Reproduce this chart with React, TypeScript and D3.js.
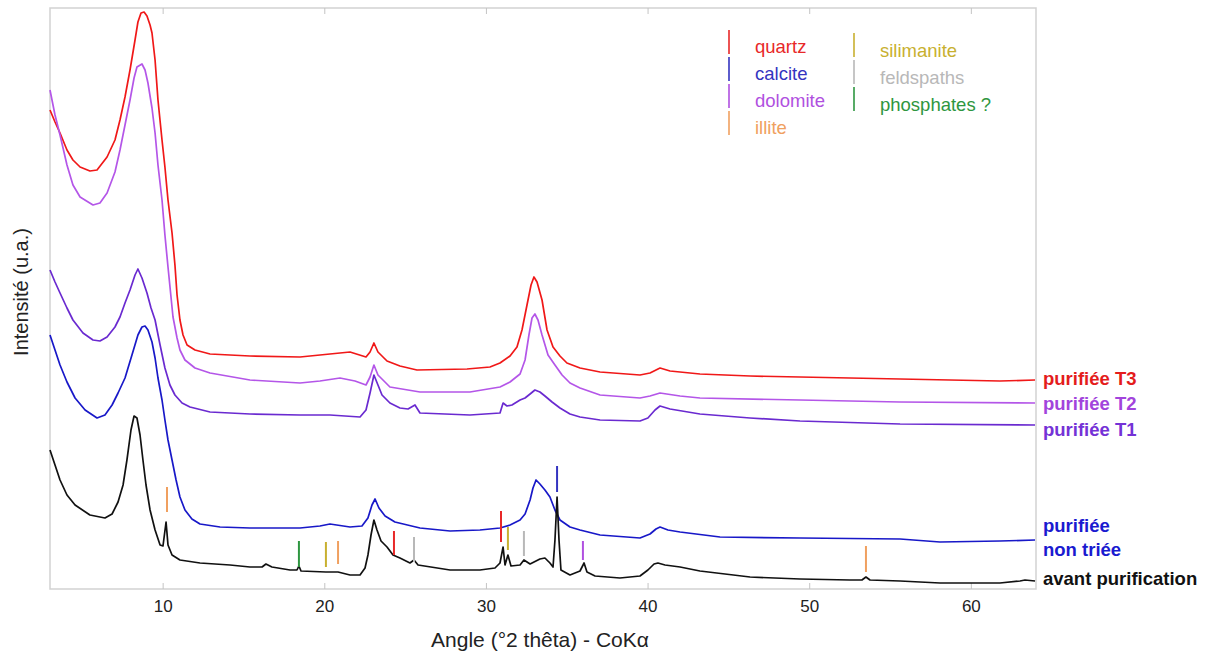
import React from "react";
import * as d3 from "d3";

// ---- Data (angle °2θ, intensity a.u.) ----
const seriesT3: [number, number][] = [
  [3.0, 479], [3.31, 467], [3.62, 456], [4.05, 439], [4.42, 429], [4.86, 422], [5.47, 418], [5.91, 419],
  [6.53, 432], [7.02, 449], [7.33, 469], [7.64, 492], [7.95, 519], [8.26, 549], [8.44, 567], [8.63, 576],
  [8.82, 577], [9.0, 573], [9.19, 564], [9.31, 556], [9.5, 529], [9.68, 489], [9.93, 449], [10.11, 422],
  [10.3, 389], [10.55, 356], [10.73, 324], [10.86, 294], [11.04, 269], [11.23, 254], [11.48, 244],
  [11.97, 239], [12.9, 235], [15.37, 233], [18.47, 232], [20.32, 235], [21.56, 237], [22.55, 232],
  [22.8, 237], [23.04, 246], [23.29, 237], [23.85, 228], [24.65, 223], [25.7, 219], [28.8, 220],
  [30.22, 222], [30.84, 226], [31.46, 233], [31.89, 242], [32.2, 259], [32.51, 284], [32.76, 304],
  [32.94, 312], [33.13, 307], [33.44, 289], [33.75, 259], [34.12, 242], [34.55, 233], [34.98, 226],
  [35.79, 221], [37.03, 217], [39.5, 214], [40.12, 216], [40.74, 221], [41.36, 218], [43.21, 215],
  [46.31, 213], [49.4, 212], [55.59, 210], [61.77, 208], [63.94, 209],
];

const seriesT2: [number, number][] = [
  [3.0, 499], [3.31, 474], [3.62, 454], [4.05, 424], [4.42, 404], [4.86, 392], [5.66, 384], [6.09, 386],
  [6.53, 396], [7.02, 417], [7.33, 439], [7.64, 464], [7.95, 489], [8.2, 511], [8.38, 522], [8.69, 525],
  [8.88, 519], [9.06, 506], [9.31, 481], [9.5, 456], [9.68, 424], [9.93, 389], [10.11, 354], [10.3, 322],
  [10.61, 272], [10.86, 251], [11.04, 239], [11.35, 229], [11.97, 221], [12.9, 216], [15.37, 209],
  [18.47, 206], [19.7, 208], [20.94, 211], [21.87, 208], [22.55, 204], [22.8, 212], [23.04, 224],
  [23.29, 214], [24.03, 202], [25.89, 197], [28.98, 197], [30.84, 202], [31.46, 207], [32.08, 215],
  [32.39, 229], [32.63, 254], [32.82, 271], [33.0, 275], [33.19, 269], [33.44, 254], [33.81, 234],
  [34.24, 224], [34.68, 214], [35.17, 206], [35.79, 201], [37.03, 194], [39.5, 191], [40.12, 193],
  [40.74, 196], [41.98, 193], [43.21, 191], [49.4, 189], [55.59, 187], [63.94, 186],
];

const seriesT1: [number, number][] = [
  [3.0, 319], [3.31, 307], [3.62, 296], [4.05, 281], [4.42, 269], [5.04, 256], [5.66, 249], [6.09, 248],
  [6.53, 252], [7.02, 262], [7.33, 272], [7.64, 286], [7.95, 299], [8.26, 314], [8.44, 320], [8.69, 311],
  [9.0, 296], [9.25, 281], [9.5, 269], [9.81, 244], [10.11, 221], [10.42, 204], [10.73, 194], [11.17, 186],
  [11.66, 182], [12.9, 177], [15.37, 175], [18.47, 174], [20.32, 174], [22.18, 172], [22.55, 179],
  [22.8, 196], [23.04, 214], [23.29, 204], [23.54, 194], [24.03, 186], [24.65, 181], [25.15, 180],
  [25.58, 184], [25.89, 176], [28.98, 174], [30.84, 176], [31.03, 186], [31.27, 183], [31.58, 184],
  [32.08, 189], [32.39, 191], [32.7, 195], [33.0, 199], [33.31, 197], [33.62, 193], [34.06, 187],
  [34.55, 181], [35.17, 175], [35.79, 172], [37.03, 169], [39.5, 168], [39.99, 171], [40.43, 179],
  [40.74, 183], [41.36, 180], [43.21, 175], [46.31, 171], [49.4, 168], [55.59, 165], [63.94, 164],
];

const seriesNonTriee: [number, number][] = [
  [3.0, 254], [3.31, 239], [3.62, 224], [4.05, 207], [4.55, 191], [5.17, 179], [5.91, 171], [6.4, 174],
  [6.84, 184], [7.21, 196], [7.64, 211], [8.07, 234], [8.44, 254], [8.69, 262], [8.88, 263], [9.06, 259],
  [9.31, 247], [9.5, 231], [9.68, 211], [9.93, 189], [10.11, 169], [10.3, 149], [10.55, 129], [10.8, 109],
  [11.04, 92], [11.35, 79], [11.78, 70], [12.28, 65], [13.52, 62], [15.37, 61], [18.47, 61], [19.7, 63],
  [20.32, 65], [21.56, 62], [22.3, 63], [22.67, 71], [22.92, 84], [23.11, 90], [23.35, 81], [23.73, 73],
  [24.34, 67], [25.89, 61], [27.75, 58], [29.6, 59], [30.84, 61], [31.46, 64], [32.08, 69], [32.39, 75],
  [32.7, 89], [32.88, 101], [33.07, 109], [33.31, 105], [33.62, 99], [33.93, 92], [34.24, 79], [34.55, 69],
  [35.17, 62], [35.79, 59], [37.03, 54], [39.5, 51], [40.12, 55], [40.49, 60], [40.74, 62], [41.23, 59],
  [41.98, 57], [44.45, 52], [49.4, 51], [55.59, 50], [58.06, 47], [61.77, 48], [63.94, 49],
];

const seriesAvant: [number, number][] = [
  [3.0, 139], [3.31, 124], [3.62, 109], [4.05, 94], [4.55, 84], [5.47, 74], [6.4, 71], [6.84, 75],
  [7.21, 87], [7.52, 104], [7.76, 129], [8.01, 159], [8.2, 173], [8.38, 171], [8.57, 154], [8.75, 129],
  [8.94, 104], [9.19, 79], [9.5, 59], [9.81, 44], [9.99, 43], [10.18, 67], [10.3, 44], [10.55, 34],
  [11.04, 29], [12.28, 26], [14.14, 24], [15.37, 22], [16.12, 22], [16.36, 25], [16.73, 22], [17.85, 19],
  [18.28, 19], [18.4, 23], [18.53, 18], [20.07, 17], [20.82, 17], [21.56, 14], [22.18, 14], [22.49, 21],
  [22.67, 34], [22.86, 54], [23.04, 69], [23.23, 59], [23.48, 48], [23.85, 42], [24.22, 34], [24.65, 31],
  [25.27, 26], [25.52, 29], [25.77, 24], [27.75, 19], [29.6, 19], [30.53, 21], [30.84, 26], [31.03, 42],
  [31.15, 24], [31.33, 34], [31.52, 23], [32.08, 24], [32.32, 29], [32.7, 25], [33.31, 30], [33.62, 31],
  [33.93, 26], [34.12, 22], [34.24, 49], [34.37, 92], [34.49, 49], [34.61, 19], [35.17, 14], [35.79, 18],
  [36.04, 26], [36.22, 17], [36.72, 13], [38.26, 11], [39.5, 13], [39.99, 19], [40.37, 25], [40.61, 26],
  [41.05, 24], [41.98, 22], [43.21, 18], [46.31, 12], [49.4, 10], [52.49, 9], [53.23, 9], [53.48, 12],
  [53.73, 9], [55.59, 8], [58.06, 6], [61.77, 6], [63.01, 8], [63.32, 9], [63.94, 8],
];

// phase reference markers: [angle, top intensity, bottom intensity, phase]
const markers: [number, number, number, string][] = [
  [10.24, 102, 77, "illite"],
  [18.4, 48, 22, "phosphates"],
  [20.07, 47, 22, "silimanite"],
  [20.82, 48, 25, "illite"],
  [24.28, 58, 34, "quartz"],
  [25.52, 52, 27, "feldspaths"],
  [30.9, 78, 47, "quartz"],
  [31.33, 62, 39, "silimanite"],
  [32.32, 58, 33, "feldspaths"],
  [34.37, 123, 97, "calcite"],
  [35.97, 48, 29, "dolomite"],
  [53.48, 43, 17, "illite"],
];

const xTicks = [10, 20, 30, 40, 50, 60];

const phaseNames = ["quartz", "calcite", "dolomite", "illite", "silimanite", "feldspaths", "phosphates"];
const phaseLabels = ["quartz", "calcite", "dolomite", "illite", "silimanite", "feldspaths", "phosphates ?"];
const phaseColors = ["#e82828", "#3434c0", "#b050e0", "#f0a060", "#c8b030", "#b8b8b8", "#2e9640"];

const seriesList = [seriesT3, seriesT2, seriesT1, seriesNonTriee, seriesAvant];
const seriesColors = ["#f01818", "#b456e8", "#6a2ad0", "#1818c8", "#111111"];
const seriesLabels = [["purifiée T3"], ["purifiée T2"], ["purifiée T1"], ["purifiée", "non triée"], ["avant purification"]];
const labelColors = ["#e41c1c", "#a244dc", "#7432d6", "#1a1ad0", "#111111"];
const labelBaselines = [385, 410, 436, 532, 556, 585];

export default function App() {
  const W = 1212, H = 655;
  const left = 50, right = 1036, top = 8, bottom = 589;
  const x = d3.scaleLinear().domain([3, 64]).range([left, right]);
  const y = d3.scaleLinear().domain([0, 581]).range([bottom, top]);
  const line = d3.line<[number, number]>().x((d) => x(d[0])).y((d) => y(d[1]));
  const font = "Arial, 'Liberation Sans', Helvetica, sans-serif";
  const colorOf = (p: string) => phaseColors[phaseNames.indexOf(p)];

  const legendCol1 = phaseNames.slice(0, 4);
  const legendCol2 = phaseNames.slice(4);

  let lbIdx = 0;
  return (
    <svg width={W} height={H} style={{ position: "absolute", left: 0, top: 0, background: "#fff" }} fontFamily={font}>
      <rect x={left} y={top} width={right - left} height={bottom - top} fill="none" stroke="#d2d2d2" strokeWidth={1.5} />
      {xTicks.map((t) => (
        <g key={t}>
          <line x1={x(t)} x2={x(t)} y1={bottom} y2={bottom - 6} stroke="#c4c4c4" strokeWidth={1} />
          <line x1={x(t)} x2={x(t)} y1={top} y2={top + 6} stroke="#c4c4c4" strokeWidth={1} />
          <text x={x(t)} y={612} textAnchor="middle" fontSize={17} fill="#222">{t}</text>
        </g>
      ))}
      {seriesList.map((s, i) => (
        <path key={i} d={line(s) || ""} fill="none" stroke={seriesColors[i]} strokeWidth={1.7} strokeLinejoin="round" />
      ))}
      {markers.map((m, i) => (
        <line key={i} x1={x(m[0])} x2={x(m[0])} y1={y(m[1])} y2={y(m[2])} stroke={colorOf(m[3])} strokeWidth={2} />
      ))}
      {legendCol1.map((p, i) => {
        const idx = phaseNames.indexOf(p);
        const y0 = 30 + i * 27;
        return (
          <g key={p}>
            <line x1={729} x2={729} y1={y0} y2={y0 + 24} stroke={phaseColors[idx]} strokeWidth={1.6} />
            <text x={755} y={y0 + 23} fontSize={18.5} fill={phaseColors[idx]}>{phaseLabels[idx]}</text>
          </g>
        );
      })}
      {legendCol2.map((p, i) => {
        const idx = phaseNames.indexOf(p);
        const y0 = 33 + i * 27;
        return (
          <g key={p}>
            <line x1={854} x2={854} y1={y0} y2={y0 + 24} stroke={phaseColors[idx]} strokeWidth={1.6} />
            <text x={880} y={y0 + 24} fontSize={18.5} fill={phaseColors[idx]}>{phaseLabels[idx]}</text>
          </g>
        );
      })}
      {seriesLabels.map((lines, i) =>
        lines.map((t, j) => {
          const yb = labelBaselines[lbIdx++];
          return (
            <text key={`${i}-${j}`} x={1043} y={yb} fontSize={18.5} fontWeight="bold" fill={labelColors[i]}>{t}</text>
          );
        })
      )}
      <text x={540} y={647} textAnchor="middle" fontSize={21} fill="#222">Angle (°2 thêta) -  CoKα</text>
      <text transform="translate(28,292) rotate(-90)" textAnchor="middle" fontSize={20} fill="#222">Intensité (u.a.)</text>
    </svg>
  );
}
